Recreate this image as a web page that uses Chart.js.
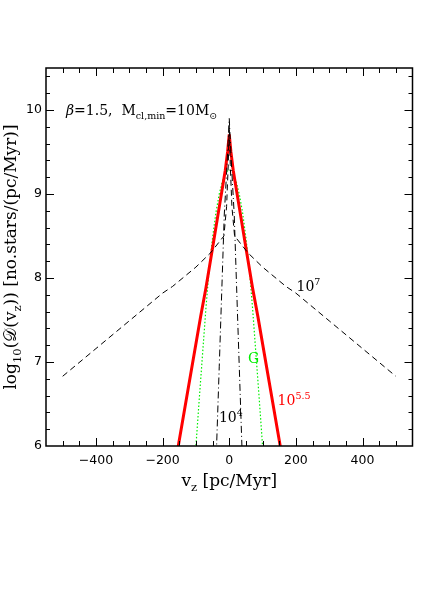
<!DOCTYPE html>
<html>
<head>
<meta charset="utf-8">
<script src="https://cdn.jsdelivr.net/npm/chart.js@4.4.1/dist/chart.umd.min.js"></script>
<style>
  html, body { margin: 0; padding: 0; background: #fff; }
  canvas { display: block; }
</style>
</head>
<body>
<canvas id="chart" width="436" height="599"></canvas>
<script>
// values
const vz7 = [-500, -400, -300, -200, -170, -100, -56, -16, -8, -3, 0, 3, 8, 16, 56, 100, 170, 200, 300, 400, 500];
const log7 = [6.83, 7.16, 7.49, 7.82, 7.90, 8.13, 8.30, 8.50, 8.85, 9.35, 9.82, 9.35, 8.85, 8.50, 8.30, 8.13, 7.90, 7.82, 7.49, 7.16, 6.83];

const vz4 = [-44, -38, -30, -22, -15, -8, -3, 0, 3, 8, 15, 22, 30, 38, 44];
const log4 = [5.4, 6.0, 6.95, 7.9, 8.75, 9.25, 9.65, 9.9, 9.65, 9.25, 8.75, 7.9, 6.95, 6.0, 5.4];

const vz55 = [-165, -153, -120, -86, -70, -50, -31, -12, -5, 0, 5, 12, 31, 50, 70, 86, 120, 153, 165];
const log55 = [5.7, 6.0, 6.76, 7.54, 7.88, 8.36, 8.82, 9.28, 9.5, 9.71, 9.5, 9.28, 8.82, 8.36, 7.88, 7.54, 6.76, 6.0, 5.7];

const vzG = [-110, -100, -90, -80, -70, -60, -50, -40, -30, -20, -10, 0, 10, 20, 30, 40, 50, 60, 70, 80, 90, 100, 110];
const logG = [5.3, 6.0, 6.56, 7.1, 7.64, 8.12, 8.48, 8.78, 9.0, 9.16, 9.26, 9.29, 9.26, 9.16, 9.0, 8.78, 8.48, 8.12, 7.64, 7.1, 6.56, 6.0, 5.3];

const xTicks = [-400, -200, 0, 200, 400];
const yTicks = [6, 7, 8, 9, 10];
const xMinorStep = 50;
const yMinorStep = 0.2;

const red = '#ff0000';
const green = '#00ee00';

function pts(xs, ys) {
    return xs.map((x, i) => ({ x: x, y: ys[i] }));
}

function drawRich(ctx, parts, x, y, size, family, color, align) {
    let runs = parts.map(function (p) {
        let mode = p[1], style = p[2] || '';
        let s = mode ? size * 0.68 : size;
        let dy = mode === 'sub' ? size * 0.28 : (mode === 'sup' ? -size * 0.45 : 0);
        let font = style + ' ' + s + 'px ' + family;
        ctx.font = font;
        return { t: p[0], font: font, dy: dy, w: ctx.measureText(p[0]).width };
    });
    let total = runs.reduce((a, r) => a + r.w, 0);
    let cx = align === 'center' ? x - total / 2 : x;
    ctx.fillStyle = color;
    ctx.textAlign = 'left';
    ctx.textBaseline = 'alphabetic';
    runs.forEach(function (r) {
        ctx.font = r.font;
        ctx.fillText(r.t, cx, y + r.dy);
        cx += r.w;
    });
}

const serif = '"DejaVu Serif", serif';

const curveLabels = [
    { parts: [['10', ''], ['7', 'sup']], v: 202, L: 7.84, color: '#000' },
    { parts: [['10', ''], ['4', 'sup']], v: -31, L: 6.28, color: '#000' },
    { parts: [['G', '']], v: 56, L: 6.99, color: green },
    { parts: [['10', ''], ['5.5', 'sup']], v: 145, L: 6.49, color: red },
];

const framePlugin = {
    id: 'frame',
    afterDraw(chart) {
        let ctx = chart.ctx, a = chart.chartArea;
        let xs = chart.scales.x, ys = chart.scales.y;
        ctx.save();
        ctx.strokeStyle = '#000';
        ctx.lineWidth = 1;
        ctx.beginPath();
        for (let v = xs.min + xMinorStep; v < xs.max; v += xMinorStep) {
            let px = Math.round(xs.getPixelForValue(v)) + 0.5;
            let len = (Math.abs(v) % 200 === 0) ? 8 : 5;
            ctx.moveTo(px, a.bottom); ctx.lineTo(px, a.bottom - len);
            ctx.moveTo(px, a.top); ctx.lineTo(px, a.top + len);
        }
        for (let v = ys.min + yMinorStep; v < ys.max - 1e-6; v += yMinorStep) {
            let py = Math.round(ys.getPixelForValue(v)) + 0.5;
            let major = Math.abs(v - Math.round(v)) < 1e-6;
            let len = major ? 8 : 4;
            ctx.moveTo(a.left, py); ctx.lineTo(a.left + len, py);
            ctx.moveTo(a.right, py); ctx.lineTo(a.right - len, py);
        }
        ctx.stroke();
        ctx.lineWidth = 1.5;
        ctx.strokeRect(a.left, a.top, a.right - a.left, a.bottom - a.top);

        // header
        drawRich(ctx, [['β', '', 'italic'], ['=1.5,  M', ''], ['cl,min', 'sub'], ['=10M', ''], ['⊙', 'sub']],
            xs.getPixelForValue(-490), ys.getPixelForValue(9.94), 14, serif, '#000', 'left');

        curveLabels.forEach(function (l) {
            drawRich(ctx, l.parts, xs.getPixelForValue(l.v), ys.getPixelForValue(l.L), 14, serif, l.color, 'left');
        });

        // axis titles
        drawRich(ctx, [['v', ''], ['z', 'sub'], [' [pc/Myr]', '']], (a.left + a.right) / 2, a.bottom + 40, 17, serif, '#000', 'center');
        ctx.translate(16, (a.top + a.bottom) / 2);
        ctx.rotate(-Math.PI / 2);
        drawRich(ctx, [['log', ''], ['10', 'sub'], ['(𝒟(v', ''], ['z', 'sub'], [')) [no.stars/(pc/Myr)]', '']], 0, 0, 17, serif, '#000', 'center');
        ctx.restore();
    }
};

document.addEventListener("DOMContentLoaded", function () {
    let ctx = document.getElementById("chart").getContext("2d");
    new Chart(ctx, {
        type: "line",
        data: {
            datasets: [
                {
                    label: "10^4",
                    data: pts(vz4, log4),
                    borderColor: '#000',
                    borderWidth: 1,
                    borderDash: [7, 3, 1, 3],
                },
                {
                    label: "10^7",
                    data: pts(vz7, log7),
                    borderColor: '#000',
                    borderWidth: 1,
                    borderDash: [6, 4],
                },
                {
                    label: "10^5.5",
                    data: pts(vz55, log55),
                    borderColor: red,
                    borderWidth: 3,
                },
                {
                    label: "G",
                    data: pts(vzG, logG),
                    borderColor: green,
                    borderWidth: 1.2,
                    borderDash: [1.5, 2],
                },
            ],
        },
        options: {
            responsive: false,
            animation: false,
            parsing: false,
            elements: {
                point: { radius: 0 },
                line: { tension: 0, fill: false },
            },
            layout: {
                padding: { top: 68, right: 23.5, left: 0, bottom: 0 },
            },
            plugins: {
                legend: { display: false },
                tooltip: { enabled: false },
            },
            scales: {
                x: {
                    type: 'linear',
                    min: -550,
                    max: 550,
                    afterBuildTicks: function (s) { s.ticks = xTicks.map(v => ({ value: v })); },
                    afterFit: function (s) { s.height = 153; },
                    grid: { drawOnChartArea: false, drawTicks: false },
                    border: { display: false },
                    ticks: {
                        color: '#000',
                        padding: 7,
                        maxRotation: 0,
                        autoSkip: false,
                        font: { family: '"DejaVu Sans"', size: 12.5 },
                        callback: function (v) { return String(v).replace('-', '\u2212'); },
                    },
                },
                y: {
                    type: 'linear',
                    min: 6,
                    max: 10.5,
                    afterBuildTicks: function (s) { s.ticks = yTicks.map(v => ({ value: v })); },
                    afterFit: function (s) { s.width = 46; },
                    grid: { drawOnChartArea: false, drawTicks: false },
                    border: { display: false },
                    ticks: {
                        color: '#000',
                        padding: 4,
                        font: { family: '"DejaVu Sans"', size: 12.5 },
                    },
                },
            },
        },
        plugins: [framePlugin],
    });
});
</script>
</body>
</html>
